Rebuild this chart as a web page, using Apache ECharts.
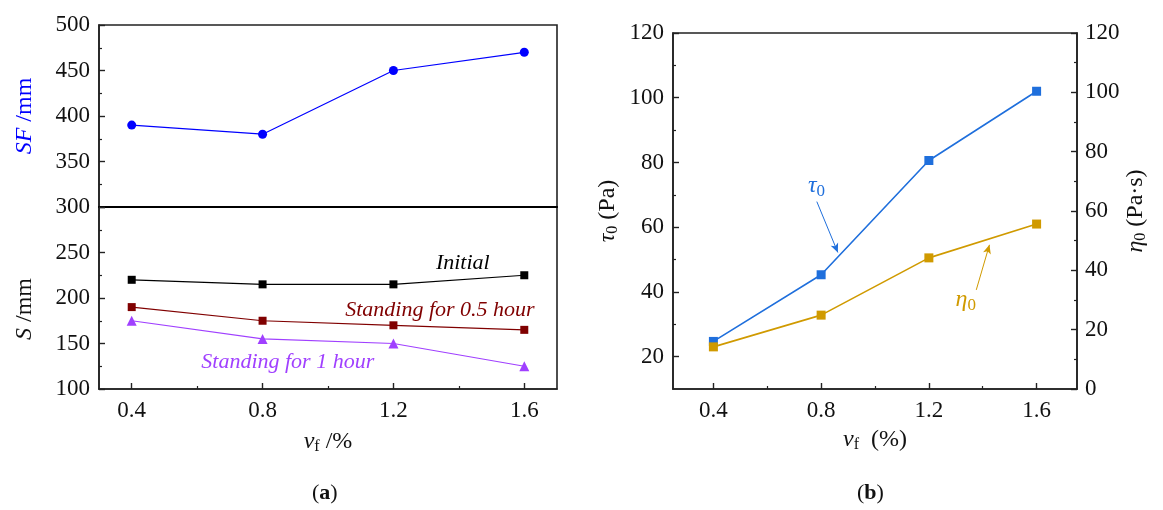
<!DOCTYPE html>
<html>
<head>
<meta charset="utf-8">
<script src="https://cdn.jsdelivr.net/npm/echarts@6/dist/echarts.min.js"></script>
<style>
html,body{margin:0;padding:0;background:#fff;}
#c{width:1163px;height:510px;}
</style>
</head>
<body>
<div id="c"></div>
<script>
// ---- data ----
const vf = [0.4, 0.8, 1.2, 1.6];
const xMajor = [0.4, 0.8, 1.2, 1.6];
const xMinor = [0.6, 1.0, 1.4];
const sfValues = [390, 380, 450, 470];
const sInitial = [220, 215, 215, 225];
const sHalfHour = [190, 175, 170, 165];
const sOneHour = [175, 155, 150, 125];
const tau0 = [24.7, 45.3, 80.6, 102.0];
const eta0 = [14.2, 24.9, 44.2, 55.6];
const tauMajor = [20, 40, 60, 80, 100, 120];
const tauMinor = [30, 50, 70, 90, 110];

const FONT = '"Liberation Serif", "DejaVu Serif", serif';
const AX = '#222';
const FS = 23;
const NFS = 24;

function pairs(xs, ys){ return xs.map((x,i)=>[x, ys[i]]); }

function xMain(gi, opts){
  return Object.assign({
    type:'value', gridIndex:gi, position:'bottom',
    axisLine:{show:true, onZero:false, lineStyle:{color:AX, width:1.6}},
    axisTick:{show:true, inside:true, length:6, customValues:xMajor, lineStyle:{color:AX, width:1.4}},
    axisLabel:{show:true, customValues:xMajor, fontFamily:FONT, fontSize:FS, color:'#111', margin:10,
      formatter:v=>v.toFixed(1)},
    splitLine:{show:false}
  }, opts);
}
function xMinorAx(gi, opts){
  return Object.assign({
    type:'value', gridIndex:gi, position:'bottom',
    axisLine:{show:false, onZero:false},
    axisTick:{show:true, inside:true, length:3, customValues:xMinor, lineStyle:{color:AX, width:1.2}},
    axisLabel:{show:false}, splitLine:{show:false}
  }, opts);
}

const richName = {
  i:{fontFamily:FONT, fontSize:NFS, fontStyle:'italic'},
  n:{fontFamily:FONT, fontSize:NFS},
  sub:{fontFamily:FONT, fontSize:16, fontStyle:'normal', verticalAlign:'bottom', padding:[10,0,0,0]}
};

function note(coord, text, color, rich){
  const label = {show:true, position:'inside', formatter:text, color:color,
    fontFamily:FONT, fontSize:22, fontStyle:'italic'};
  if (rich) label.rich = rich;
  return {symbol:'circle', symbolSize:1, silent:true, itemStyle:{color:'rgba(0,0,0,0)'},
    label:label, data:[{coord:coord, value:1}]};
}
function subRich(color){
  return {
    i:{fontFamily:FONT, fontSize:24, fontStyle:'italic', color:color},
    sub:{fontFamily:FONT, fontSize:17, fontStyle:'normal', color:color, verticalAlign:'bottom', padding:[11,0,0,0]}
  };
}

const option = {
  animation:false,
  backgroundColor:'#fff',
  grid:[
    {left:99, top:25, width:458, height:182, show:true, borderColor:AX, borderWidth:1.6},
    {left:99, top:207, width:458, height:182, show:true, borderColor:AX, borderWidth:1.6},
    {left:673, top:33, width:404, height:356, show:true, borderColor:AX, borderWidth:1.6}
  ],
  xAxis:[
    {type:'value', gridIndex:0, min:0.3, max:1.7, position:'bottom',
     axisLine:{show:true, onZero:false, lineStyle:{color:'#000', width:2}},
     axisTick:{show:false}, axisLabel:{show:false}, splitLine:{show:false}},
    xMain(1, {min:0.3, max:1.7,
      name:'{i|v}{sub|f} /%', nameLocation:'middle', nameGap:40,
      nameTextStyle:{color:'#111', fontFamily:FONT, fontSize:NFS, rich:richName}}),
    xMinorAx(1, {min:0.3, max:1.7}),
    xMain(2, {min:0.25, max:1.75,
      name:'{i|v}{sub|f}  (%)', nameLocation:'middle', nameGap:38,
      nameTextStyle:{color:'#111', fontFamily:FONT, fontSize:NFS, rich:richName}}),
    xMinorAx(2, {min:0.25, max:1.75})
  ],
  yAxis:[
    {type:'value', gridIndex:0, min:300, max:500, interval:50,
     axisLine:{show:true, lineStyle:{color:AX, width:1.6}},
     axisTick:{show:true, inside:true, length:6, lineStyle:{color:AX, width:1.4}},
     minorTick:{show:true, splitNumber:2, length:3, lineStyle:{color:AX, width:1.2}},
     axisLabel:{fontFamily:FONT, fontSize:FS, color:'#111', margin:9},
     splitLine:{show:false},
     name:'{i|SF} /mm', nameLocation:'middle', nameGap:62, nameRotate:90,
     nameTextStyle:{color:'#0000ff', fontFamily:FONT, fontSize:NFS, rich:{
       i:{fontFamily:FONT, fontSize:NFS, fontStyle:'italic', color:'#0000ff'}}}},
    {type:'value', gridIndex:1, min:100, max:300, interval:50,
     axisLine:{show:true, lineStyle:{color:AX, width:1.6}},
     axisTick:{show:true, inside:true, length:6, lineStyle:{color:AX, width:1.4}},
     minorTick:{show:true, splitNumber:2, length:3, lineStyle:{color:AX, width:1.2}},
     axisLabel:{fontFamily:FONT, fontSize:FS, color:'#111', margin:9, showMaxLabel:false},
     splitLine:{show:false},
     name:'{i|S} /mm', nameLocation:'middle', nameGap:62, nameRotate:90,
     nameTextStyle:{color:'#111', fontFamily:FONT, fontSize:NFS, padding:[0,22,0,0], rich:richName}},
    {type:'value', gridIndex:2, min:10, max:120, position:'left',
     axisLine:{show:true, lineStyle:{color:AX, width:1.6}},
     axisTick:{show:true, inside:true, length:6, customValues:tauMajor, lineStyle:{color:AX, width:1.4}},
     axisLabel:{fontFamily:FONT, fontSize:FS, color:'#111', margin:9, customValues:tauMajor},
     splitLine:{show:false},
     name:'{i|τ}{sub|0} (Pa)', nameLocation:'middle', nameGap:52, nameRotate:90,
     nameTextStyle:{color:'#111', fontFamily:FONT, fontSize:NFS, rich:richName}},
    {type:'value', gridIndex:2, min:10, max:120, position:'left',
     axisLine:{show:false},
     axisTick:{show:true, inside:true, length:3, customValues:tauMinor, lineStyle:{color:AX, width:1.2}},
     axisLabel:{show:false}, splitLine:{show:false}},
    {type:'value', gridIndex:2, min:0, max:120, interval:20, position:'right',
     axisLine:{show:true, lineStyle:{color:AX, width:1.6}},
     axisTick:{show:true, inside:true, length:6, lineStyle:{color:AX, width:1.4}},
     minorTick:{show:true, splitNumber:2, length:3, lineStyle:{color:AX, width:1.2}},
     axisLabel:{fontFamily:FONT, fontSize:FS, color:'#111', margin:8},
     splitLine:{show:false},
     name:'{i|η}{sub|0} (Pa·s)', nameLocation:'middle', nameGap:44, nameRotate:90,
     nameTextStyle:{color:'#111', fontFamily:FONT, fontSize:NFS, rich:richName}}
  ],
  series:[
    {type:'line', xAxisIndex:0, yAxisIndex:0, data:pairs(vf, sfValues),
     symbol:'circle', symbolSize:9, lineStyle:{color:'#0000ff', width:1.2},
     itemStyle:{color:'#0000ff'}},
    {type:'line', xAxisIndex:1, yAxisIndex:1, data:pairs(vf, sInitial),
     symbol:'rect', symbolSize:8, lineStyle:{color:'#000', width:1.2},
     itemStyle:{color:'#000'},
     markPoint:note([1.412, 238.5], 'Initial', '#000')},
    {type:'line', xAxisIndex:1, yAxisIndex:1, data:pairs(vf, sHalfHour),
     symbol:'rect', symbolSize:8, lineStyle:{color:'#800000', width:1.2},
     itemStyle:{color:'#800000'},
     markPoint:note([1.342, 186.8], 'Standing for 0.5 hour', '#800000')},
    {type:'line', xAxisIndex:1, yAxisIndex:1, data:pairs(vf, sOneHour),
     symbol:'triangle', symbolSize:10, lineStyle:{color:'#a040ff', width:1.2},
     itemStyle:{color:'#a040ff'},
     markPoint:note([0.877, 129.7], 'Standing for 1 hour', '#a040ff')},
    {type:'line', xAxisIndex:3, yAxisIndex:2, data:pairs(vf, tau0),
     symbol:'rect', symbolSize:9, lineStyle:{color:'#1f6fdc', width:1.6},
     itemStyle:{color:'#1f6fdc'},
     markPoint:note([0.783, 72.8], '{i|τ}{sub|0}', '#1f6fdc', subRich('#1f6fdc')),
     markLine:{silent:true, symbol:['none','arrow'], symbolSize:[6,9],
       lineStyle:{color:'#1f6fdc', width:1, type:'solid'}, label:{show:false},
       data:[[{coord:[0.784, 67.9]},{coord:[0.862, 52.2]}]]}},
    {type:'line', xAxisIndex:3, yAxisIndex:4, data:pairs(vf, eta0),
     symbol:'rect', symbolSize:9, lineStyle:{color:'#d09a00', width:1.6},
     itemStyle:{color:'#d09a00'},
     markPoint:note([1.337, 30], '{i|η}{sub|0}', '#d09a00', subRich('#d09a00')),
     markLine:{silent:true, symbol:['none','arrow'], symbolSize:[6,9],
       lineStyle:{color:'#d09a00', width:1, type:'solid'}, label:{show:false},
       data:[[{coord:[1.376, 33.4]},{coord:[1.425, 48.6]}]]}}
  ],
  graphic:[
    {type:'text', left:312, top:482, style:{text:'({b|a})', fontFamily:FONT, fontSize:22, fill:'#111',
      rich:{b:{fontFamily:FONT, fontSize:22, fontWeight:'bold'}}}},
    {type:'text', left:857, top:482, style:{text:'({b|b})', fontFamily:FONT, fontSize:22, fill:'#111',
      rich:{b:{fontFamily:FONT, fontSize:22, fontWeight:'bold'}}}}
  ]
};
const chart = echarts.init(document.getElementById('c'), null, {renderer:'canvas'});
chart.setOption(option);
</script>
</body>
</html>
